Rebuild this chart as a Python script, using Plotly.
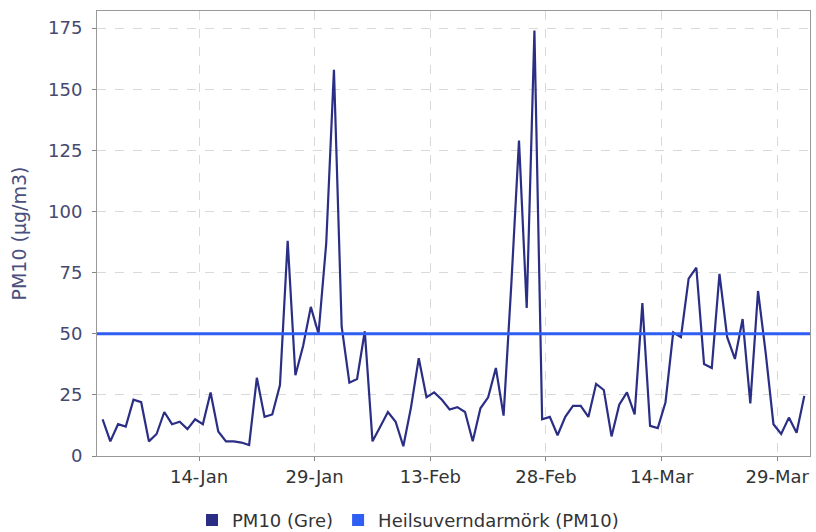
import pandas as pd
import plotly.graph_objects as go

# ---- data ----
START_DATE = "2008-01-01 12:00"
pm10_values = [
    15, 6, 13, 12, 23, 22, 6, 9, 18, 13,
    14, 11, 15, 13, 26, 10, 6, 6, 5.5, 4.5,
    32, 16, 17, 29, 88, 33, 45, 61, 50, 87,
    158, 53, 30, 31.5, 51, 6, 12, 18, 14, 4,
    20, 40, 24, 26, 23, 19, 20, 18, 6, 19.5,
    24, 36, 16.5, 70, 129, 60.5, 174, 15, 16, 8.5,
    16, 20.5, 20.5, 16, 29.5, 27, 8, 21, 26, 17,
    62.5, 12.3, 11.4, 22, 50.6, 48.6, 72.5, 77, 37.6, 36,
    74.5, 48.6, 39.7, 56, 21.5, 67.5, 42, 13, 9, 15.7,
    9.5, 24.6,
]
limit_value = 50
series_names = ["PM10 (Gre)", "Heilsuverndarmörk (PM10)"]
x_tick_dates = ["2008-01-14", "2008-01-29", "2008-02-13", "2008-02-28", "2008-03-14", "2008-03-29"]
x_tick_labels = ["14-Jan", "29-Jan", "13-Feb", "28-Feb", "14-Mar", "29-Mar"]
y_tick_values = [0, 25, 50, 75, 100, 125, 150, 175]
y_title = "PM10 (µg/m3)"

dates = pd.date_range(START_DATE, periods=len(pm10_values), freq="D")

PM_COLOR = "#2b2e85"
LIMIT_COLOR = "#2f5ef2"
FONT = "DejaVu Sans"

fig = go.Figure()

fig.add_trace(go.Scatter(
    x=dates, y=pm10_values, mode="lines",
    line=dict(color=PM_COLOR, width=2.2),
    showlegend=False, name=series_names[0],
))

# limit line across the whole plot
fig.add_hline(y=limit_value, line=dict(color=LIMIT_COLOR, width=3))

# legend entries (square swatches)
for name, col in zip(series_names, [PM_COLOR, LIMIT_COLOR]):
    fig.add_trace(go.Scatter(
        x=[None], y=[None], mode="markers", name=name,
        marker=dict(symbol="square", size=12, color=col),
        showlegend=True,
    ))

fig.update_layout(
    width=816, height=532,
    margin=dict(l=97, r=6, t=11, b=76, autoexpand=False),
    paper_bgcolor="white", plot_bgcolor="white",
    font=dict(family=FONT, size=15, color="#333333"),
    legend=dict(
        orientation="h", xref="container", yref="container",
        x=0.5, xanchor="center", y=0.022, yanchor="middle",
        font=dict(family=FONT, size=18, color="#333333"),
        itemwidth=30, tracegroupgap=0,
    ),
)

fig.update_xaxes(
    type="date",
    range=["2007-12-31 18:30", "2008-04-02 05:45"],
    tickmode="array", tickvals=x_tick_dates, ticktext=x_tick_labels,
    ticks="outside", ticklen=4, tickcolor="#888888",
    tickfont=dict(family=FONT, size=18, color="#333333"),
    ticklabelstandoff=0,
    showgrid=True, gridcolor="#d9d9d9", griddash="dash", gridwidth=1,
    showline=True, linecolor="#999999", linewidth=1, mirror=True,
    zeroline=False, automargin=False,
)

fig.update_yaxes(
    range=[0, 182],
    tickmode="array", tickvals=y_tick_values,
    ticks="outside", ticklen=4, tickcolor="#888888",
    tickfont=dict(family=FONT, size=18, color="#46496f"),
    ticklabelstandoff=6,
    showgrid=True, gridcolor="#d9d9d9", griddash="dash", gridwidth=1,
    showline=True, linecolor="#999999", linewidth=1, mirror=True,
    zeroline=False, automargin=False,
    title=dict(text=y_title, font=dict(family=FONT, size=19, color="#4a4f7c"), standoff=16),
)

fig.write_html(
    "out.html",
    config={"displayModeBar": False},
    post_script="document.body.style.margin='0';",
)
